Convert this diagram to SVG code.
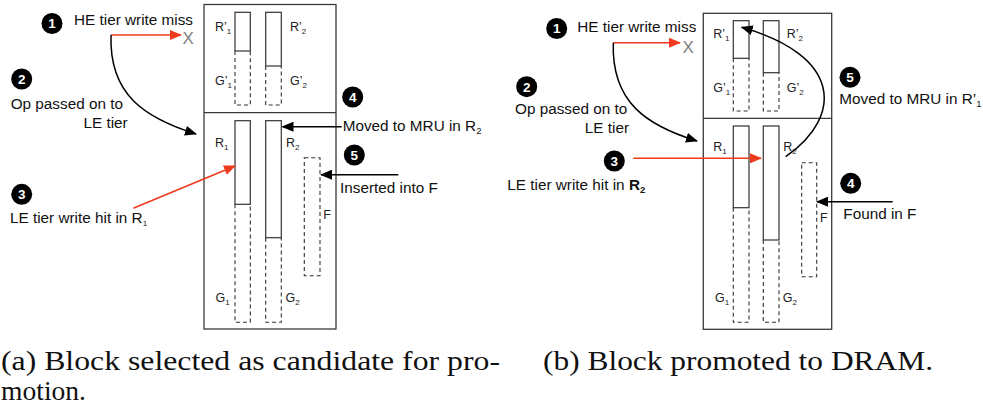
<svg xmlns="http://www.w3.org/2000/svg" width="983" height="409" viewBox="0 0 983 409">
<style>
.box{fill:none;stroke:#3a3a3a;stroke-width:1.3}
.sol{fill:#fff;stroke:#333;stroke-width:1.2}
.dash{fill:none;stroke:#333;stroke-width:1.1;stroke-dasharray:4 3}
.lbl{font-family:"Liberation Sans",Arial,sans-serif;font-size:12.5px;fill:#222}
.sub{font-size:8px}
.ann{font-family:"Liberation Sans",Arial,sans-serif;font-size:15.3px;fill:#111}
.num{font-family:"Liberation Sans",Arial,sans-serif;font-size:13.5px;font-weight:bold;fill:#fff;text-anchor:middle}
.x{font-family:"Liberation Sans",Arial,sans-serif;font-size:17px;fill:#808080}
.cap{font-family:"Liberation Serif","Times New Roman",serif;font-size:27px;fill:#111}
.blk{fill:none;stroke:#000;stroke-width:1.5}
.red{fill:none;stroke:#f03a1e;stroke-width:1.6}
</style>
<defs>
<marker id="ab" markerUnits="userSpaceOnUse" markerWidth="12" markerHeight="10" viewBox="0 0 12 10" refX="11" refY="5" orient="auto"><path d="M0,0 L12,5 L0,10 Z" fill="#000"/></marker>
<marker id="ar" markerUnits="userSpaceOnUse" markerWidth="12" markerHeight="10" viewBox="0 0 12 10" refX="11" refY="5" orient="auto"><path d="M0,0 L12,5 L0,10 Z" fill="#f03a1e"/></marker>
</defs>

<!-- Panel (a) -->
<g id="a-box">
<rect class="box" x="204" y="4.5" width="132" height="324.5"/>
<line class="box" x1="204" y1="112.7" x2="336" y2="112.7"/>
</g>
<g id="a-col-r1p">
<path class="dash" d="M235,51 V105 H250.3 V51"/>
<rect class="sol" x="235" y="12.3" width="15.3" height="38.7"/>
<text class="lbl" x="215" y="30.5">R’<tspan class="sub" dy="3">1</tspan></text>
<text class="lbl" x="215" y="85">G’<tspan class="sub" dy="3">1</tspan></text>
</g>
<g id="a-col-r2p">
<path class="dash" d="M265.7,66 V105 H281.3 V66"/>
<rect class="sol" x="265.7" y="12.3" width="15.6" height="53.7"/>
<text class="lbl" x="290" y="30.5">R’<tspan class="sub" dy="3">2</tspan></text>
<text class="lbl" x="290" y="85">G’<tspan class="sub" dy="3">2</tspan></text>
</g>
<g id="a-col-r1">
<path class="dash" d="M235,204.3 V322.3 H250.3 V204.3"/>
<rect class="sol" x="235" y="120.7" width="15.3" height="83.6"/>
<text class="lbl" x="215" y="146.5">R<tspan class="sub" dy="3">1</tspan></text>
<text class="lbl" x="215.5" y="301.5">G<tspan class="sub" dy="3">1</tspan></text>
</g>
<g id="a-col-r2">
<path class="dash" d="M265.7,237.7 V322.3 H281.3 V237.7"/>
<rect class="sol" x="265.7" y="120.7" width="15.6" height="117"/>
<text class="lbl" x="286" y="146.5">R<tspan class="sub" dy="3">2</tspan></text>
<text class="lbl" x="285.5" y="301.5">G<tspan class="sub" dy="3">2</tspan></text>
</g>
<g id="a-f">
<rect class="dash" x="304.3" y="157.7" width="15.7" height="118"/>
<text class="lbl" x="323.3" y="219">F</text>
</g>
<g id="a-step1">
<circle cx="52" cy="23.5" r="10.5" fill="#000"/><text class="num" x="52" y="28.3">1</text>
<text class="ann" x="74" y="24.5">HE tier write miss</text>
<text class="x" x="182.5" y="44">X</text>
</g>
<g id="a-step2">
<circle cx="21.7" cy="79" r="10.5" fill="#000"/><text class="num" x="21.7" y="83.8">2</text>
<text class="ann" x="10.7" y="109">Op passed on to</text>
<text class="ann" x="127.7" y="128" text-anchor="end">LE tier</text>
</g>
<g id="a-step3">
<circle cx="21.7" cy="194.3" r="10.5" fill="#000"/><text class="num" x="21.7" y="199.1">3</text>
<text class="ann" x="10" y="223.3">LE tier write hit in R<tspan class="sub" font-size="9.5" dy="3">1</tspan></text>
</g>
<g id="a-step4">
<circle cx="352.7" cy="97" r="10.5" fill="#000"/><text class="num" x="352.7" y="101.8">4</text>
<text class="ann" x="342.7" y="131">Moved to MRU in R<tspan font-size="9.5" dy="3">2</tspan></text>
</g>
<g id="a-step5">
<circle cx="354.3" cy="155" r="10.5" fill="#000"/><text class="num" x="354.3" y="159.8">5</text>
<text class="ann" x="340" y="193.3">Inserted into F</text>
</g>

<!-- Panel (b) -->
<g id="b-box">
<rect class="box" x="703.3" y="13.3" width="128.4" height="316"/>
<line class="box" x1="703.3" y1="118.3" x2="831.7" y2="118.3"/>
</g>
<g id="b-col-r1p">
<path class="dash" d="M733.3,58.3 V111 H749 V58.3"/>
<rect class="sol" x="733.3" y="20.7" width="15.7" height="37.6"/>
<text class="lbl" x="713.3" y="37.5">R’<tspan class="sub" dy="3">1</tspan></text>
<text class="lbl" x="713.3" y="91.7">G’<tspan class="sub" dy="3">1</tspan></text>
</g>
<g id="b-col-r2p">
<path class="dash" d="M763.3,72.7 V111 H779 V72.7"/>
<rect class="sol" x="763.3" y="20.7" width="15.7" height="52"/>
<text class="lbl" x="786.7" y="37.5">R’<tspan class="sub" dy="3">2</tspan></text>
<text class="lbl" x="786.7" y="91.7">G’<tspan class="sub" dy="3">2</tspan></text>
</g>
<g id="b-col-r1">
<path class="dash" d="M733.3,207.7 V322.3 H749 V207.7"/>
<rect class="sol" x="733.3" y="126" width="15.7" height="81.7"/>
<text class="lbl" x="713.3" y="150.5">R<tspan class="sub" dy="3">1</tspan></text>
<text class="lbl" x="715" y="301.5">G<tspan class="sub" dy="3">1</tspan></text>
</g>
<g id="b-col-r2">
<path class="dash" d="M763.3,240 V322.3 H779 V240"/>
<rect class="sol" x="763.3" y="126" width="15.7" height="114"/>
<text class="lbl" x="783.3" y="150.5">R<tspan class="sub" dy="3">2</tspan></text>
<text class="lbl" x="782.7" y="301.5">G<tspan class="sub" dy="3">2</tspan></text>
</g>
<g id="b-f">
<rect class="dash" x="801.7" y="162.7" width="15" height="114"/>
<text class="lbl" x="820" y="221.7">F</text>
</g>
<g id="b-step1">
<circle cx="556.7" cy="28.5" r="10.5" fill="#000"/><text class="num" x="556.7" y="33.3">1</text>
<text class="ann" x="577.3" y="32">HE tier write miss</text>
<text class="x" x="682.5" y="52.5">X</text>
</g>
<g id="b-step2">
<circle cx="526.7" cy="86.7" r="10.5" fill="#000"/><text class="num" x="526.7" y="91.5">2</text>
<text class="ann" x="515" y="114.3">Op passed on to</text>
<text class="ann" x="629" y="132.7" text-anchor="end">LE tier</text>
</g>
<g id="b-step3">
<circle cx="614.3" cy="161" r="10.5" fill="#000"/><text class="num" x="614.3" y="165.8">3</text>
<text class="ann" x="507.3" y="190">LE tier write hit in <tspan font-weight="bold">R</tspan><tspan font-weight="bold" font-size="9.5" dy="3">2</tspan></text>
</g>
<g id="b-step4">
<circle cx="850.7" cy="183.3" r="10.5" fill="#000"/><text class="num" x="850.7" y="188.1">4</text>
<text class="ann" x="843.3" y="219.3">Found in F</text>
</g>
<g id="b-step5">
<circle cx="850" cy="77.3" r="10.5" fill="#000"/><text class="num" x="850" y="82.1">5</text>
<text class="ann" x="839.3" y="104">Moved to MRU in R’<tspan font-size="9.5" dy="3">1</tspan></text>
</g>

<!-- connectors -->
<g id="connectors">
<line class="red" x1="111" y1="35" x2="181" y2="35" marker-end="url(#ar)"/>
<path class="blk" d="M111,35 C109,95 145,118 196,134" marker-end="url(#ab)"/>
<line class="red" x1="133.3" y1="208.3" x2="235" y2="166" marker-end="url(#ar)"/>
<line class="blk" x1="341.7" y1="126.7" x2="282.5" y2="126.7" marker-end="url(#ab)"/>
<line class="blk" x1="398.3" y1="174.7" x2="321" y2="174.7" marker-end="url(#ab)"/>

<line class="red" x1="613.3" y1="42.7" x2="680" y2="42.7" marker-end="url(#ar)"/>
<path class="blk" d="M613.3,42.7 C611.3,102.7 647.3,125.7 697,141" marker-end="url(#ab)"/>
<line class="red" x1="633.3" y1="158.3" x2="761" y2="158.3" marker-end="url(#ar)"/>
<path class="blk" d="M785.7,156.7 C845,115 840,55 741.7,27.3" marker-end="url(#ab)"/>
<line class="blk" x1="892.7" y1="201.7" x2="817" y2="201.7" marker-end="url(#ab)"/>
</g>

<!-- captions -->
<g id="captions">
<text class="cap" x="1" y="369.7" textLength="499" lengthAdjust="spacingAndGlyphs">(a) Block selected as candidate for pro-</text>
<text class="cap" x="1" y="399.7" textLength="85" lengthAdjust="spacingAndGlyphs">motion.</text>
<text class="cap" x="543" y="369.7" textLength="390" lengthAdjust="spacingAndGlyphs">(b) Block promoted to DRAM.</text>
</g>
</svg>
